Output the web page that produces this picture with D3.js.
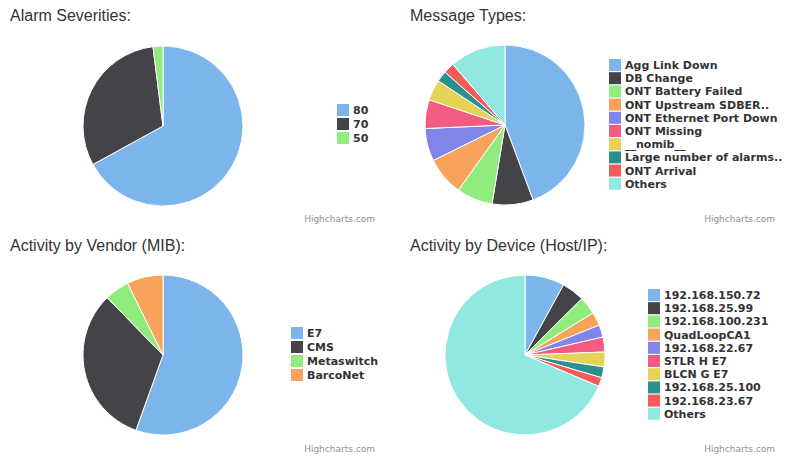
<!DOCTYPE html>
<html><head><meta charset="utf-8">
<script src="https://cdn.jsdelivr.net/npm/d3@7"></script>
<style>body{margin:0;background:#fff}</style></head>
<body><svg id="c" width="800" height="468"></svg>
<script>
const COLORS = ['#7cb5ec', '#434348', '#90ed7d', '#f7a35c', '#8085e9', '#f15c80', '#e4d354', '#2b908f', '#f45b5b', '#91e8e1'];

const severityLabels = ['80', '70', '50'];
const severityValues = [67, 31, 2];

const messageLabels = ['Agg Link Down', 'DB Change', 'ONT Battery Failed', 'ONT Upstream SDBER..', 'ONT Ethernet Port Down',
  'ONT Missing', '__nomib__', 'Large number of alarms..', 'ONT Arrival', 'Others'];
const messageValues = [44.3, 8.3, 7.3, 7.8, 6.6, 5.8, 4.2, 2.2, 2.2, 11.3];

const vendorLabels = ['E7', 'CMS', 'Metaswitch', 'BarcoNet'];
const vendorValues = [55.5, 32.2, 5, 7.3];

const deviceLabels = ['192.168.150.72', '192.168.25.99', '192.168.100.231', 'QuadLoopCA1', '192.168.22.67',
  'STLR H E7', 'BLCN G E7', '192.168.25.100', '192.168.23.67', 'Others'];
const deviceValues = [8, 4.6, 3.6, 2.7, 2.5, 3, 3, 2.2, 1.8, 68.6];

const charts = [
  { title: 'Alarm Severities:', labels: severityLabels, values: severityValues, ox: 0, oy: 0, cx: 163, cy: 126, lx: 337, ly: 104, step: 14 },
  { title: 'Message Types:', labels: messageLabels, values: messageValues, ox: 400, oy: 0, cx: 505, cy: 125, lx: 609, ly: 59, step: 13.2 },
  { title: 'Activity by Vendor (MIB):', labels: vendorLabels, values: vendorValues, ox: 0, oy: 230, cx: 163, cy: 355, lx: 291, ly: 327, step: 14 },
  { title: 'Activity by Device (Host/IP):', labels: deviceLabels, values: deviceValues, ox: 400, oy: 230, cx: 525, cy: 355, lx: 648, ly: 289, step: 13.2 }
];

const svg = d3.select('#c');
const pie = d3.pie().sort(null);
const arc = d3.arc().innerRadius(0).outerRadius(80);

charts.forEach((c) => {
  svg.append('text')
    .attr('x', c.ox + 10).attr('y', c.oy + 21)
    .attr('font-family', 'Liberation Sans, Arial, sans-serif')
    .attr('font-size', 16).attr('fill', '#333')
    .text(c.title);

  const g = svg.append('g').attr('transform', `translate(${c.cx},${c.cy})`);
  g.selectAll('path')
    .data(pie(c.values))
    .enter()
    .append('path')
    .attr('d', arc)
    .attr('fill', (d, i) => COLORS[i])
    .attr('stroke', '#fff')
    .attr('stroke-width', 1);

  const legend = svg.append('g').attr('transform', `translate(${c.lx},${c.ly})`);
  const items = legend.selectAll('g')
    .data(c.labels)
    .enter()
    .append('g')
    .attr('transform', (d, i) => `translate(0,${i * c.step})`);
  items.append('rect')
    .attr('width', 12).attr('height', 12)
    .attr('fill', (d, i) => COLORS[i]);
  items.append('text')
    .attr('x', 16).attr('y', 10)
    .attr('font-family', 'DejaVu Sans, Verdana, sans-serif')
    .attr('font-size', 11).attr('font-weight', 'bold')
    .attr('fill', '#333')
    .text((d) => d);

  svg.append('text')
    .attr('x', c.ox + 375).attr('y', c.oy + 222)
    .attr('text-anchor', 'end')
    .attr('font-family', 'DejaVu Sans, Verdana, sans-serif')
    .attr('font-size', 9).attr('fill', '#909090')
    .text('Highcharts.com');
});
</script></body></html>
